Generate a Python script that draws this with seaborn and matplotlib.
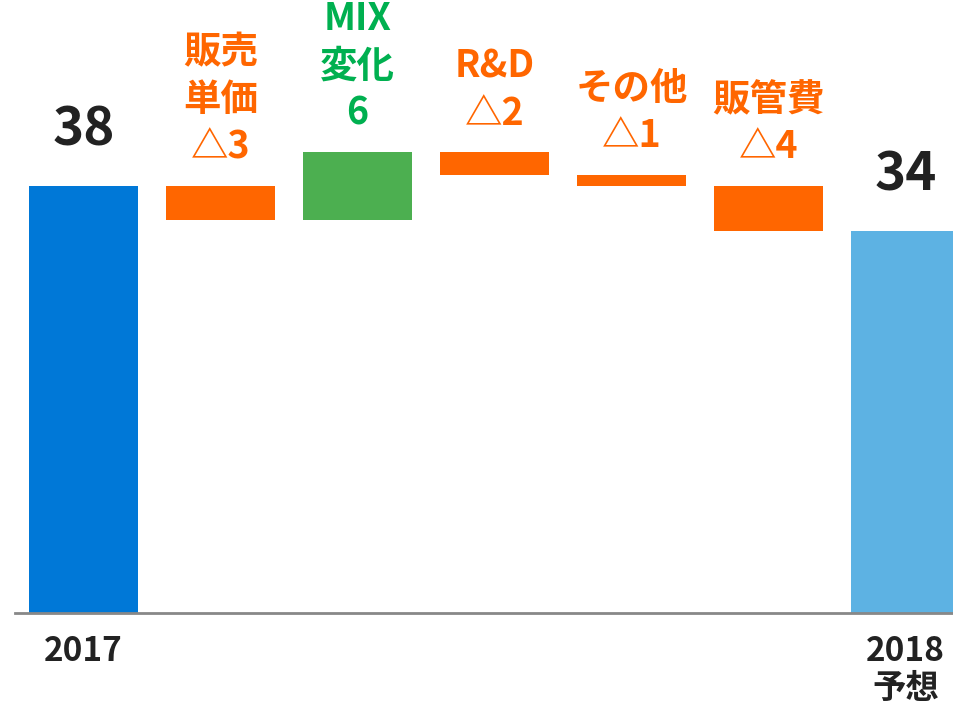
import pandas as pd
import seaborn as sns
import matplotlib.pyplot as plt

# ----------------------
# Data
# ----------------------
steps = ["2017", "販売単価", "MIX変化", "R&D", "その他", "販管費", "2018予想"]
changes = [38, -3, 6, -2, -1, -4, 34]          # first / last are totals
is_total = [True, False, False, False, False, False, True]
bar_labels = ["38", "販売\n単価\n△3", "MIX\n変化\n6", "R&D\n△2", "その他\n△1", "販管費\n△4", "34"]
tick_labels = ["2017", "", "", "", "", "", "2018\n予想"]

# ----------------------
# Colours
# ----------------------
BAR_COLORS = ["#0078D7", "#FF6600", "#4CAF50", "#FF6600", "#FF6600", "#FF6600", "#5DB2E3"]
TEXT_COLORS = ["#222222", "#FF6600", "#00B050", "#FF6600", "#FF6600", "#FF6600", "#222222"]

# waterfall bottoms / heights
lows, highs = [], []
level = 0
for c, tot in zip(changes, is_total):
    if tot:
        lo, hi = 0, c
        level = c
    else:
        new = level + c
        lo, hi = min(level, new), max(level, new)
        level = new
    lows.append(lo)
    highs.append(hi)

df = pd.DataFrame({"step": steps, "low": lows, "height": [h - l for h, l in zip(highs, lows)]})

sns.set_style("white")
plt.rcParams["font.family"] = ["Noto Sans CJK JP", "DejaVu Sans"]

W, H = 954, 713
fig = plt.figure(figsize=(W / 100, H / 100), dpi=100)
ax = fig.add_axes([15 / W, (H - 613) / H, 1 - 15 / W, 613 / H])

sns.barplot(data=df, x="step", y="height", bottom=df["low"].to_numpy(),
            width=0.8, color=BAR_COLORS[0], linewidth=0, ax=ax)
for p, col in zip(ax.patches, BAR_COLORS):
    p.set_facecolor(col)
    p.set_edgecolor("none")

ax.set_xlim(-0.5, 6.354)
ax.set_ylim(0, 54.54)

# value labels above bars
for i, (txt, top, tot, col) in enumerate(zip(bar_labels, highs, is_total, TEXT_COLORS)):
    if tot:
        ax.annotate(txt, xy=(i, top), xytext=(0, 21), textcoords="offset points",
                    ha="center", va="bottom", fontsize=38, fontweight="bold", color=col)
    else:
        ax.annotate(txt, xy=(i, top), xytext=(0, 14), textcoords="offset points",
                    ha="center", va="bottom", fontsize=27, fontweight="bold", color=col,
                    linespacing=1.27, multialignment="center")

ax.set_xticks(range(len(steps)))
ax.set_xticklabels(tick_labels, fontsize=24, fontweight="bold", color="#222222", linespacing=1.15)
ax.tick_params(axis="x", length=0, pad=16)
ax.set_yticks([])
ax.set_xlabel("")
ax.set_ylabel("")

for side in ["top", "right", "left"]:
    ax.spines[side].set_visible(False)
ax.spines["bottom"].set_color("#888888")
ax.spines["bottom"].set_linewidth(2)

fig.savefig("out.png", dpi=100)
